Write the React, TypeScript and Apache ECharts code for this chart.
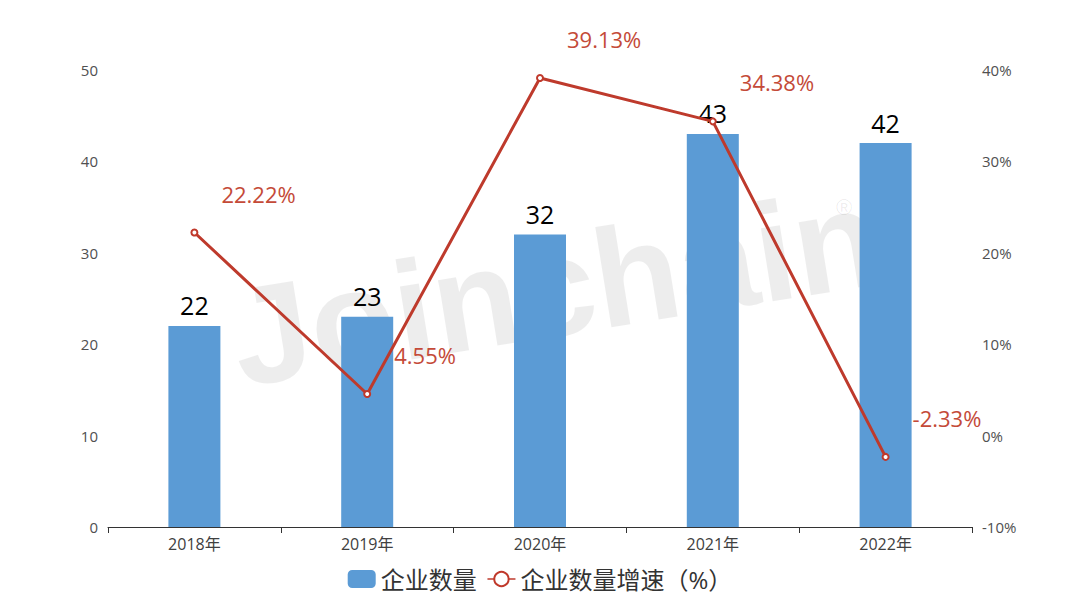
import React, { useEffect, useRef } from "react";
import * as echarts from "echarts";

const categories = ["2018年", "2019年", "2020年", "2021年", "2022年"];
const companyCount = [22, 23, 32, 43, 42];
const growthRate = [22.22, 4.55, 39.13, 34.38, -2.33];
const seriesNames = ["企业数量", "企业数量增速（%）"];

const FONT = "'Open Sans', 'Noto Sans CJK SC', sans-serif";

export default function App() {
  const ref = useRef<HTMLDivElement>(null);
  useEffect(() => {
    if (!ref.current) return;
    const chart = echarts.init(ref.current, undefined, { renderer: "svg" });
    chart.setOption({
      animation: false,
      backgroundColor: "#ffffff",
      textStyle: { fontFamily: FONT },
      grid: { left: 108, right: 108, top: 70, bottom: 73 },
      legend: {
        bottom: 4,
        left: "center",
        itemGap: 10,
        itemWidth: 28,
        itemHeight: 18,
        textStyle: { fontSize: 24, color: "#333", fontFamily: FONT },
        data: [
          { name: seriesNames[0], icon: "roundRect" },
          { name: seriesNames[1], lineStyle: { width: 1.5 }, itemStyle: { borderWidth: 1 } },
        ],
      },
      graphic: [
        {
          type: "text",
          x: 222,
          y: 270,
          rotation: 0.16,
          z: -1,
          silent: true,
          style: {
            text: "Joinchain",
            fill: "rgba(0,0,0,0.07)",
            font: "bold 140px 'Liberation Sans', Arial, sans-serif",
            verticalAlign: "top",
          },
        },
        {
          type: "text",
          x: 836,
          y: 196,
          z: -1,
          silent: true,
          style: {
            text: "®",
            fill: "rgba(0,0,0,0.08)",
            font: "22px sans-serif",
          },
        },
      ],
      xAxis: {
        type: "category",
        data: categories,
        boundaryGap: true,
        axisLine: { lineStyle: { color: "#333", width: 1 } },
        axisTick: { show: true, length: 6, lineStyle: { color: "#333" } },
        axisLabel: { fontSize: 16, color: "#404040", margin: 9 },
      },
      yAxis: [
        {
          type: "value",
          min: 0,
          max: 50,
          interval: 10,
          splitLine: { show: false },
          axisLine: { show: false },
          axisTick: { show: false },
          axisLabel: { fontSize: 15, color: "#505050", margin: 10 },
        },
        {
          type: "value",
          min: -10,
          max: 40,
          interval: 10,
          splitLine: { show: false },
          axisLine: { show: false },
          axisTick: { show: false },
          axisLabel: { fontSize: 15, color: "#505050", margin: 10, formatter: "{value}%" },
        },
      ],
      series: [
        {
          name: seriesNames[0],
          type: "bar",
          data: companyCount,
          barWidth: 52,
          itemStyle: { color: "#5B9BD5" },
          label: {
            show: true,
            position: "top",
            distance: 8,
            fontSize: 25,
            color: "#000",
            fontFamily: FONT,
          },
        },
        {
          name: seriesNames[1],
          type: "line",
          yAxisIndex: 1,
          data: growthRate,
          symbol: "emptyCircle",
          symbolSize: 6,
          itemStyle: { color: "#C0392B", borderColor: "#C0392B", borderWidth: 1 },
          lineStyle: { color: "#BE3A2C", width: 3 },
          label: {
            show: true,
            position: "inside",
            align: "left",
            verticalAlign: "middle",
            offset: [27, -39],
            fontSize: 22,
            color: "#C44A38",
            fontFamily: FONT,
            formatter: (p: any) => p.value.toFixed(2) + "%",
          },
        },
      ],
    });
    return () => chart.dispose();
  }, []);
  return <div ref={ref} style={{ width: 1080, height: 600, margin: -8 }} />;
}
